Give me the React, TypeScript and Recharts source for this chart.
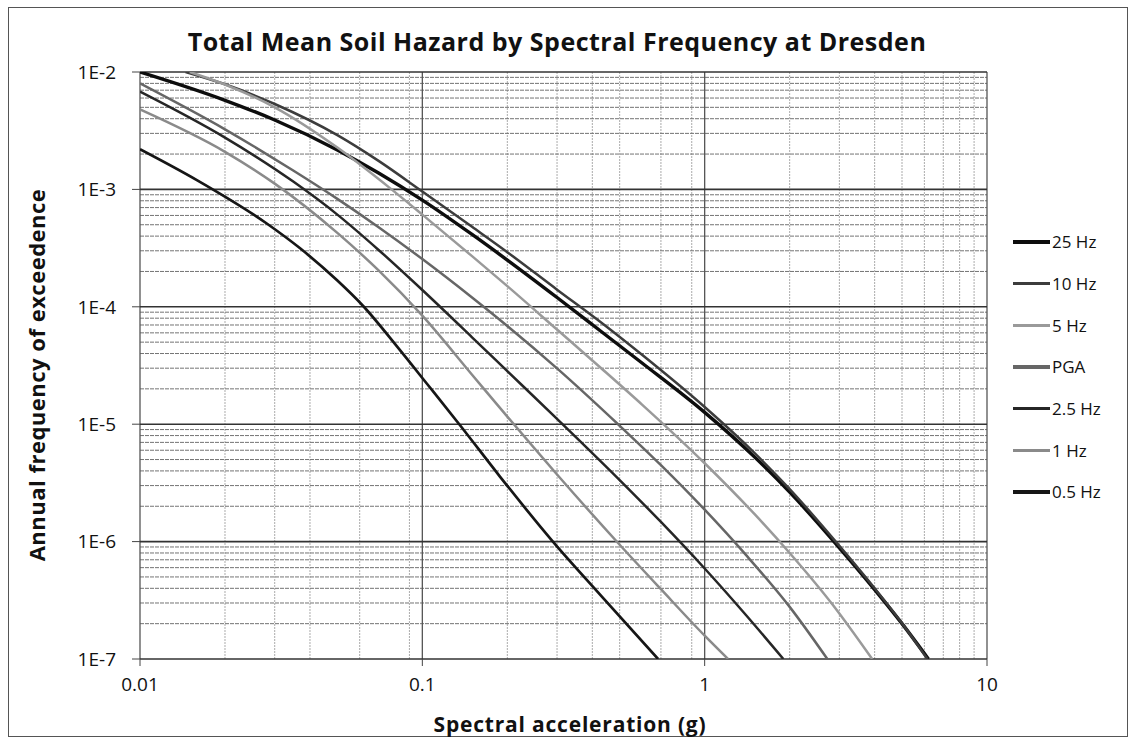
import React from 'react';
import { LineChart, Line, XAxis, YAxis, CartesianGrid, ReferenceLine } from 'recharts';

// ---- data ----
const hz25X = [0.01, 0.02, 0.03, 0.05, 0.07, 0.1, 0.15, 0.2, 0.3, 0.43, 0.6, 1.0, 1.5, 2.0, 3.0, 4.0, 5.0, 6.2];
const hz25Y = [1e-2, 5.74e-3, 3.9e-3, 2.17e-3, 1.38e-3, 8.1e-4, 4.13e-4, 2.5e-4, 1.2e-4, 6.16e-5, 3.32e-5, 1.26e-5, 5.27e-6, 2.64e-6, 8.85e-7, 3.9e-7, 2.0e-7, 1e-7];

const hz10X = [0.0145, 0.02, 0.03, 0.05, 0.07, 0.1, 0.15, 0.2, 0.3, 0.43, 0.6, 1.0, 1.5, 2.0, 3.0, 4.0, 5.0, 6.15];
const hz10Y = [1e-2, 7.86e-3, 5.34e-3, 2.9e-3, 1.75e-3, 9.6e-4, 4.8e-4, 2.92e-4, 1.4e-4, 7.35e-5, 3.9e-5, 1.4e-5, 5.7e-6, 2.8e-6, 9.2e-7, 4.0e-7, 2.02e-7, 1e-7];

const hz5X = [0.015, 0.02, 0.03, 0.05, 0.077, 0.1, 0.15, 0.2, 0.3, 0.43, 0.6, 1.0, 1.5, 2.0, 2.85, 3.92];
const hz5Y = [1e-2, 7.83e-3, 5.0e-3, 2.27e-3, 1.02e-3, 6.1e-4, 2.7e-4, 1.5e-4, 6.4e-5, 3.0e-5, 1.47e-5, 4.65e-6, 1.72e-6, 8.0e-7, 2.87e-7, 1e-7];

const pgaX = [0.01, 0.02, 0.035, 0.05, 0.07, 0.1, 0.15, 0.2, 0.3, 0.5, 0.7, 1.0, 1.4, 2.0, 2.72];
const pgaY = [8e-3, 3.25e-3, 1.44e-3, 8.3e-4, 4.76e-4, 2.55e-4, 1.2e-4, 6.86e-5, 2.99e-5, 9.7e-6, 4.48e-6, 1.87e-6, 7.7e-7, 2.78e-7, 1e-7];

const hz2_5X = [0.01, 0.02, 0.035, 0.05, 0.07, 0.1, 0.15, 0.2, 0.3, 0.5, 0.7, 1.0, 1.4, 1.9];
const hz2_5Y = [6.8e-3, 2.76e-3, 1.16e-3, 6.1e-4, 3.05e-4, 1.39e-4, 5.5e-5, 2.83e-5, 1.11e-5, 3.34e-6, 1.47e-6, 5.9e-7, 2.37e-7, 1e-7];

const hz1X = [0.01, 0.02, 0.03, 0.05, 0.07, 0.1, 0.15, 0.2, 0.3, 0.5, 0.7, 1.0, 1.21];
const hz1Y = [4.8e-3, 2.09e-3, 1.12e-3, 4.26e-4, 2.04e-4, 8.4e-5, 2.64e-5, 1.16e-5, 3.73e-6, 9.4e-7, 3.93e-7, 1.58e-7, 1e-7];

const hz05X = [0.01, 0.0159, 0.0282, 0.0369, 0.0499, 0.0616, 0.0813, 0.104, 0.136, 0.188, 0.29, 0.43, 0.684];
const hz05Y = [2.2e-3, 1.2e-3, 5.1e-4, 3.15e-4, 1.68e-4, 1.02e-4, 4.6e-5, 2.2e-5, 9.8e-6, 3.6e-6, 1.0e-6, 3.45e-7, 1e-7];

const seriesNames = ['25 Hz', '10 Hz', '5 Hz', 'PGA', '2.5 Hz', '1 Hz', '0.5 Hz'];

const xMajorTicks = [0.01, 0.1, 1, 10];
const yMajorTicks = [1e-7, 1e-6, 1e-5, 1e-4, 1e-3, 1e-2];
const yTickLabels = ['1E-7', '1E-6', '1E-5', '1E-4', '1E-3', '1E-2'];
const minorMultipliers = [2, 3, 4, 5, 6, 7, 8, 9];

const title = 'Total Mean Soil Hazard by Spectral Frequency at Dresden';
const xTitle = 'Spectral acceleration (g)';
const yTitle = 'Annual frequency of exceedence';

// ---- build ----
const zip = (xs: number[], ys: number[]) => xs.map((x, i) => ({ x, y: ys[i] }));
const seriesData = [
  zip(hz25X, hz25Y),
  zip(hz10X, hz10Y),
  zip(hz5X, hz5Y),
  zip(pgaX, pgaY),
  zip(hz2_5X, hz2_5Y),
  zip(hz1X, hz1Y),
  zip(hz05X, hz05Y),
];
const seriesStyle = [
  { color: '#0d0d0d', width: 3.4 },
  { color: '#3c3c3c', width: 2.5 },
  { color: '#9a9a9a', width: 2.5 },
  { color: '#666666', width: 2.5 },
  { color: '#262626', width: 2.5 },
  { color: '#8a8a8a', width: 2.5 },
  { color: '#161616', width: 2.7 },
];

const xMinor: number[] = [];
xMajorTicks.slice(0, -1).forEach((d) => minorMultipliers.forEach((m) => xMinor.push(+(d * m).toPrecision(3))));
const yMinor: number[] = [];
yMajorTicks.slice(0, -1).forEach((d) => minorMultipliers.forEach((m) => yMinor.push(+(d * m).toPrecision(3))));

const FONT = "'Open Sans', Lato, sans-serif";

export default function App() {
  return (
    <div style={{ position: 'absolute', left: 0, top: 0, width: 1134, height: 739, background: '#fff', overflow: 'hidden' }}>
      <div
        style={{
          position: 'absolute',
          left: 8,
          top: 7,
          width: 1120,
          height: 730,
          border: '1.5px solid #555',
          boxSizing: 'border-box',
        }}
      />
      <div
        style={{
          position: 'absolute',
          left: 557,
          top: 25,
          transform: 'translateX(-50%)',
          whiteSpace: 'nowrap',
          fontFamily: FONT,
          fontWeight: 700,
          fontSize: 25,
          letterSpacing: 0.5,
          lineHeight: '32px',
          color: '#111',
        }}
      >
        {title}
      </div>
      <div
        style={{
          position: 'absolute',
          left: 570,
          top: 710,
          transform: 'translateX(-50%)',
          whiteSpace: 'nowrap',
          fontFamily: FONT,
          fontWeight: 700,
          fontSize: 21,
          letterSpacing: 0.8,
          lineHeight: '28px',
          color: '#111',
        }}
      >
        {xTitle}
      </div>
      <div
        style={{
          position: 'absolute',
          left: 36,
          top: 375,
          transform: 'translate(-50%, -50%) rotate(-90deg)',
          whiteSpace: 'nowrap',
          fontFamily: FONT,
          fontWeight: 700,
          fontSize: 22,
          letterSpacing: 0.5,
          lineHeight: '28px',
          color: '#111',
        }}
      >
        {yTitle}
      </div>
      <div style={{ position: 'absolute', left: 0, top: 0 }}>
        <LineChart width={1134} height={739} margin={{ top: 72, right: 147, bottom: 50, left: 80 }}>
          <CartesianGrid horizontal={false} verticalValues={xMinor} stroke="#ababab" strokeWidth={1} strokeDasharray="2 1" />
          <CartesianGrid vertical={false} horizontalValues={yMinor} stroke="#747474" strokeWidth={1} strokeDasharray="4 1" />
          {xMajorTicks.map((v) => (
            <ReferenceLine key={'x' + v} x={v} stroke="#555" strokeWidth={1.3} />
          ))}
          {yMajorTicks.map((v) => (
            <ReferenceLine key={'y' + v} y={v} stroke="#333" strokeWidth={1.6} />
          ))}
          <XAxis
            dataKey="x"
            type="number"
            scale="log"
            domain={[0.01, 10]}
            ticks={xMajorTicks}
            allowDataOverflow
            height={30}
            axisLine={false}
            tickSize={7}
            tickMargin={12}
            tickLine={{ stroke: '#444' }}
            tick={{ fontFamily: FONT, fontSize: 19, fill: '#111' }}
            tickFormatter={(v: number) => String(v)}
          />
          <YAxis
            dataKey="y"
            type="number"
            scale="log"
            domain={[1e-7, 1e-2]}
            ticks={yMajorTicks}
            allowDataOverflow
            width={60}
            axisLine={false}
            tickSize={8}
            tickMargin={16}
            tickLine={{ stroke: '#444' }}
            tick={{ fontFamily: FONT, fontSize: 19, fill: '#111' }}
            tickFormatter={(v: number) => yTickLabels[yMajorTicks.findIndex((t) => Math.abs(Math.log10(t) - Math.log10(v)) < 1e-6)] ?? ''}
          />
          {seriesData.map((d, i) => (
            <Line
              key={seriesNames[i]}
              data={d}
              dataKey="y"
              name={seriesNames[i]}
              type="monotone"
              stroke={seriesStyle[i].color}
              strokeWidth={seriesStyle[i].width}
              dot={false}
              isAnimationActive={false}
            />
          ))}
        </LineChart>
      </div>
      <div style={{ position: 'absolute', left: 1013, top: 221, fontFamily: FONT, fontSize: 17, color: '#111' }}>
        {seriesNames.map((n, i) => (
          <div key={n} style={{ display: 'flex', alignItems: 'center', height: 41.7 }}>
            <div style={{ width: 37, height: seriesStyle[i].width + 0.8, background: seriesStyle[i].color }} />
            <span style={{ marginLeft: 2, whiteSpace: 'nowrap' }}>{n}</span>
          </div>
        ))}
      </div>
    </div>
  );
}
